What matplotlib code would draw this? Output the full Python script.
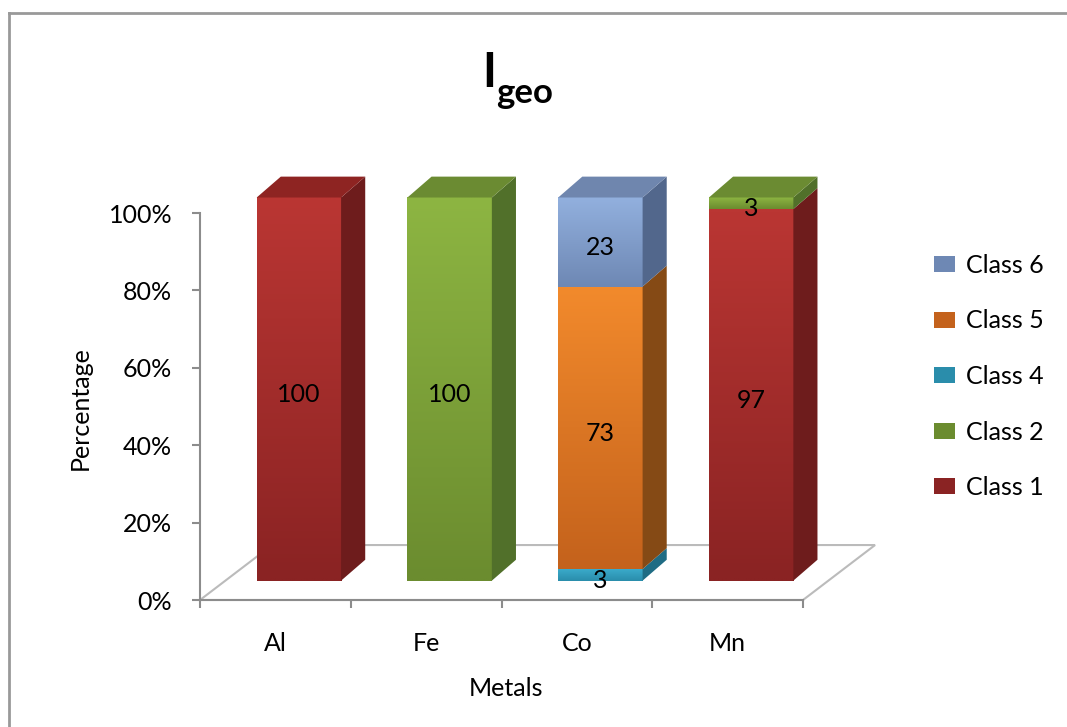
import numpy as np
import matplotlib.pyplot as plt
import matplotlib.colors as mcolors
from matplotlib.patches import Polygon, Patch
from matplotlib.lines import Line2D

# Chart data (percent of samples per class)
metals = ['Al', 'Fe', 'Co', 'Mn']
classNames = ['Class 1', 'Class 2', 'Class 4', 'Class 5', 'Class 6']
class1 = [100, 0, 0, 97]
class2 = [0, 100, 0, 3]
class4 = [0, 0, 3, 0]
class5 = [0, 0, 73, 0]
class6 = [0, 0, 23, 0]
yTicks = [0, 20, 40, 60, 80, 100]

series = [class1, class2, class4, class5, class6]

# (front top, front bottom, side, top) colours for every class
palette = {
    'Class 1': ('#BA3633', '#8A2323', '#6E1C1C', '#8E2422'),
    'Class 2': ('#8DB542', '#6B8C2F', '#51702A', '#6B8B32'),
    'Class 4': ('#3AAACA', '#2A8DAB', '#1F6C84', '#2B8DAA'),
    'Class 5': ('#F28A2C', '#C4621C', '#854A15', '#A85A1C'),
    'Class 6': ('#92B0DE', '#6E88B4', '#52678C', '#6F86AE'),
}

plt.rcParams['font.family'] = ['Lato', 'DejaVu Sans']

# Fake 3D projection (data units)
barWidth = 0.56
barShift = 0.156
baseZ = 5.0
zScale = 0.99
depthX = 0.16
depthY = 5.4
floorDepthX = 0.478
floorDepthY = 14.2
labelDrop = 1.4

W, H = 1067, 727
fig = plt.figure(figsize=(W / 100, H / 100), dpi=100)
ax = fig.add_axes([200 / W, 127 / H, 603 / W, 425.7 / H])

def gradientFace(ax, x0, x1, y0, y1, cTop, cBottom):
    # Vertical gradient on the front face of one segment
    top = np.array(mcolors.to_rgb(cTop))
    bottom = np.array(mcolors.to_rgb(cBottom))
    t = np.linspace(0, 1, 64)[:, None]
    img = (top * (1 - t) + bottom * t)[:, None, :]
    ax.imshow(img, extent=(x0, x1, y0, y1), aspect='auto', interpolation='bilinear', zorder=3)

# Floor of the 3D plot
nCat = len(metals)
fx0, fx1 = -0.5, nCat - 0.5
floor = Polygon([(fx0, 0), (fx1, 0), (fx1 + floorDepthX, floorDepthY), (fx0 + floorDepthX, floorDepthY)],
                closed=True, facecolor='white', edgecolor='#BBBBBB', lw=1.5, zorder=1, clip_on=False)
ax.add_patch(floor)

# Bars
for i in range(nCat):
    values = np.array([s[i] for s in series], dtype=float)
    shares = values / values.sum() * 100
    x0 = i + barShift - barWidth / 2
    x1 = x0 + barWidth
    cum = 0.0
    lastColor = None
    for name, share, raw in zip(classNames, shares, values):
        if raw == 0:
            continue
        y0 = baseZ + cum * zScale
        y1 = baseZ + (cum + share) * zScale
        cTop, cBottom, cSide, cRoof = palette[name]
        gradientFace(ax, x0, x1, y0, y1, cTop, cBottom)
        side = Polygon([(x1, y0), (x1 + depthX, y0 + depthY), (x1 + depthX, y1 + depthY), (x1, y1)],
                       closed=True, facecolor=cSide, edgecolor='none', zorder=3, clip_on=False)
        ax.add_patch(side)
        ax.text((x0 + x1) / 2, (y0 + y1) / 2 - labelDrop, f'{int(raw)}', ha='center', va='center',
                fontsize=18, color='black', zorder=5)
        cum += share
        lastColor = cRoof
        yTop = y1
    roof = Polygon([(x0, yTop), (x1, yTop), (x1 + depthX, yTop + depthY), (x0 + depthX, yTop + depthY)],
                   closed=True, facecolor=lastColor, edgecolor='none', zorder=3, clip_on=False)
    ax.add_patch(roof)

# Axes and ticks
ax.set_xlim(-0.5, nCat - 0.5)
ax.set_ylim(0, 110)
ax.set_facecolor('none')
for sp in ['top', 'right']:
    ax.spines[sp].set_visible(False)
for sp in ['left', 'bottom']:
    ax.spines[sp].set_color('#8C8C8C')
    ax.spines[sp].set_linewidth(1.5)
ax.spines['left'].set_bounds(0, 100)

ax.set_yticks(yTicks)
ax.set_yticklabels([f'{t}%' for t in yTicks])
ax.set_xticks(np.arange(nCat + 1) - 0.5)
ax.set_xticklabels([])
ax.set_xticks(np.arange(nCat), minor=True)
ax.set_xticklabels(metals, minor=True)
ax.tick_params(axis='both', which='major', length=6, width=1.5, color='#8C8C8C', labelsize=18)
ax.tick_params(axis='y', pad=14)
ax.tick_params(axis='x', which='minor', length=0, pad=23, labelsize=18)

# Axis titles
fig.text(80 / W, 1 - 408 / H, 'Percentage', rotation=90, ha='center', va='center', fontsize=18)
fig.text(506 / W, 1 - 688 / H, 'Metals', ha='center', va='center', fontsize=18)

# Title I_geo
fig.text(482 / W, 1 - 87 / H, 'I', fontsize=34, fontweight='bold', ha='left', va='baseline')
fig.text(496 / W, 1 - 103 / H, 'geo', fontsize=25, fontweight='bold', ha='left', va='baseline')

# Legend (top of stack first)
handles = [Patch(facecolor=palette[n][1], edgecolor='none', label=n) for n in reversed(classNames)]
fig.legend(handles=handles, loc='upper left', bbox_to_anchor=(934 / W, 1 - 254 / H), frameon=False,
           fontsize=18, handlelength=0.85, handleheight=0.6, handletextpad=0.45, labelspacing=1.3,
           borderpad=0, borderaxespad=0)

# Outer chart border (only left and top edges are inside the picture)
bx, by = 9 / W, 1 - 13 / H
fig.add_artist(Line2D([bx, bx], [0, by], transform=fig.transFigure, color='#999999', lw=2))
fig.add_artist(Line2D([bx, 1], [by, by], transform=fig.transFigure, color='#999999', lw=2))

fig.savefig('out.png', dpi=100)
